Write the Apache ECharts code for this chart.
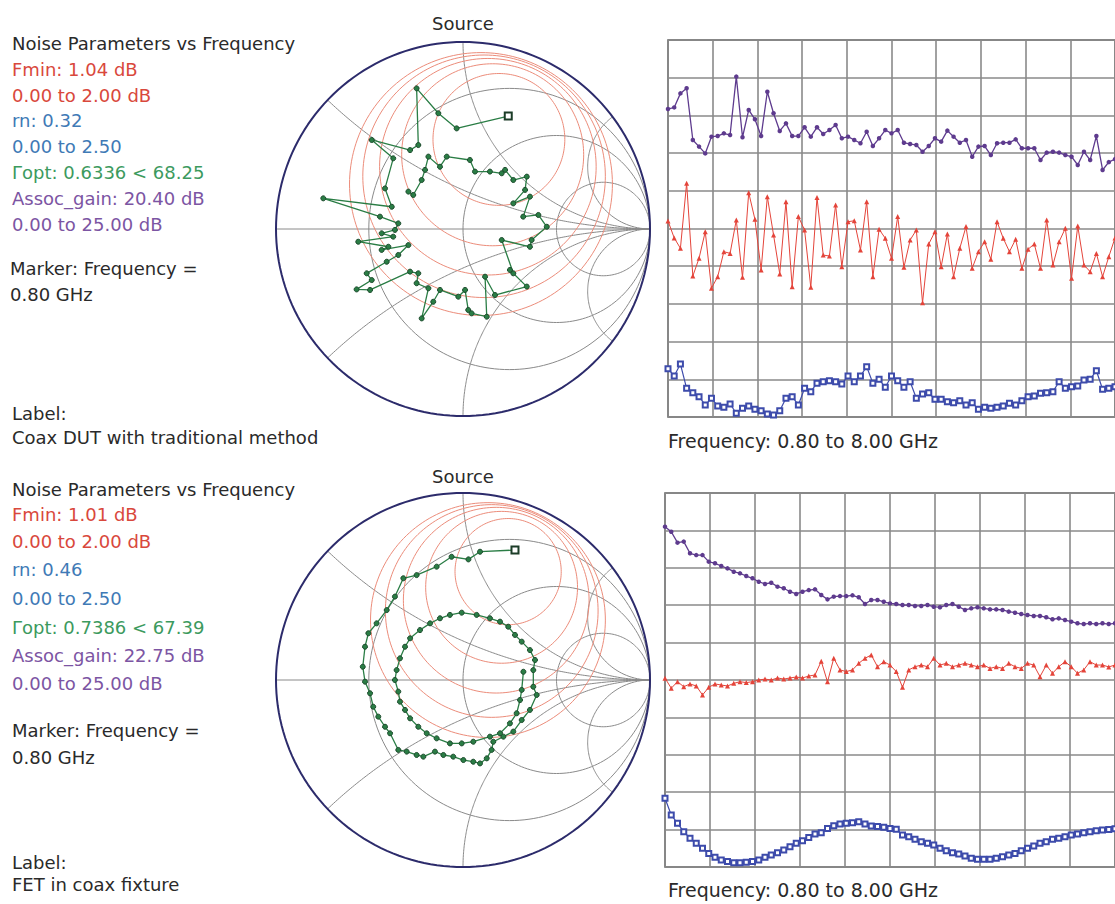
<!DOCTYPE html>
<html>
<head>
<meta charset="utf-8">
<script src="https://cdn.jsdelivr.net/npm/echarts@6/dist/echarts.min.js"></script>
<style>
html,body{margin:0;padding:0;background:#fff}
#main{width:1115px;height:904px}
</style>
</head>
<body>
<div id="main"></div>
<script>
// frequency points, GHz
var freq = [0.8,0.9,1.0,1.1,1.2,1.3,1.4,1.5,1.6,1.7,1.8,1.9,2.0,2.1,2.2,2.3,2.4,2.5,2.6,2.7,2.8,2.9,3.0,3.1,3.2,3.3,3.4,3.5,3.6,3.7,3.8,3.9,4.0,4.1,4.2,4.3,4.4,4.5,4.6,4.7,4.8,4.9,5.0,5.1,5.2,5.3,5.4,5.5,5.6,5.7,5.8,5.9,6.0,6.1,6.2,6.3,6.4,6.5,6.6,6.7,6.8,6.9,7.0,7.1,7.2,7.3,7.4,7.5,7.6,7.7,7.8,7.9,8.0];

// top: coax DUT, traditional method
var gainTop = [20.42,20.53,21.46,21.8,18.37,17.93,17.48,18.59,18.63,18.81,18.7,22.57,18.55,20.36,19.74,18.63,21.57,20.14,18.97,19.47,18.63,18.63,19.21,18.59,19.21,18.77,19.03,19.36,18.48,18.59,18.37,18.15,18.92,17.97,18.48,19.03,18.81,19.03,18.19,18.1,18.04,17.59,17.97,18.48,18.26,18.99,18.59,18.19,18.37,17.26,17.93,17.97,17.37,18.15,18.19,18.19,18.41,17.82,17.82,17.82,17.04,17.53,17.59,17.53,17.37,17.26,16.71,17.59,17.04,18.63,16.38,16.9,17.1];
var fminTop = [1.04,0.95,0.895,1.24,0.748,0.842,0.983,0.683,0.744,0.877,0.868,1.045,0.741,1.19,1.049,0.78,1.169,0.966,0.759,1.142,0.691,1.063,0.992,0.688,1.165,0.859,0.854,1.125,0.797,1.036,1.041,0.886,1.142,0.744,0.996,0.948,0.842,1.063,0.794,0.939,0.992,0.606,0.918,0.983,0.797,0.971,0.744,0.895,1.01,0.789,0.877,0.93,0.837,1.036,0.948,0.877,0.943,0.789,0.89,0.918,0.789,1.045,0.806,0.93,1.001,0.736,1.013,0.806,0.771,0.868,0.744,0.85,0.95];
var rnTop = [0.32,0.272,0.351,0.19,0.161,0.135,0.08,0.124,0.073,0.064,0.086,0.025,0.058,0.073,0.051,0.042,0.02,0.013,0.042,0.124,0.135,0.08,0.19,0.168,0.224,0.234,0.241,0.234,0.219,0.272,0.234,0.272,0.334,0.224,0.25,0.197,0.272,0.241,0.197,0.234,0.124,0.153,0.161,0.117,0.117,0.101,0.095,0.108,0.08,0.095,0.051,0.064,0.058,0.064,0.073,0.091,0.08,0.108,0.135,0.139,0.157,0.161,0.168,0.234,0.19,0.201,0.206,0.245,0.25,0.307,0.184,0.19,0.2];
var gammaTopRe = [0.242,-0.034,-0.132,-0.248,-0.239,-0.283,-0.488,-0.373,-0.417,-0.381,-0.747,-0.444,-0.346,-0.364,-0.435,-0.373,-0.56,-0.399,-0.435,-0.292,-0.346,-0.408,-0.515,-0.488,-0.569,-0.497,-0.283,-0.239,-0.248,-0.185,-0.221,-0.159,-0.123,-0.025,0.011,0.028,0.046,0.127,0.118,0.171,0.341,0.251,0.269,0.207,0.358,0.367,0.448,0.403,0.322,0.358,0.269,0.332,0.341,0.269,0.225,0.207,0.144,0.064,0.037,-0.087,-0.123,-0.185,-0.203,-0.221,-0.266,-0.292];
var gammaTopIm = [0.604,0.538,0.619,0.752,0.449,0.422,0.476,0.378,0.217,0.119,0.164,0.066,0.03,-0.005,-0.023,-0.041,-0.068,-0.095,-0.112,-0.086,-0.139,-0.175,-0.237,-0.273,-0.323,-0.326,-0.228,-0.237,-0.29,-0.317,-0.478,-0.389,-0.326,-0.362,-0.326,-0.433,-0.451,-0.469,-0.255,-0.353,-0.308,-0.219,-0.237,-0.059,-0.095,-0.059,0.012,0.075,0.066,0.173,0.137,0.209,0.28,0.262,0.316,0.298,0.307,0.307,0.369,0.387,0.333,0.387,0.316,0.262,0.182,0.2];
var noiseTopCx = [0.192,0.1587,0.133,0.1127,0.0961];
var noiseTopCy = [0.479,0.397,0.333,0.2819,0.2404];
var noiseTopR = [0.3525,0.4866,0.579,0.6485,0.7029];

// bottom: FET in coax fixture
var gainBot = [22.75,22.41,21.68,21.75,20.97,20.85,20.85,20.41,20.3,20.12,19.96,19.74,19.63,19.45,19.3,19.07,18.92,19.0,18.74,18.63,18.4,18.25,18.4,18.51,18.56,18.18,17.89,18.07,18.11,18.11,18.16,18.03,17.58,17.85,17.85,17.73,17.62,17.58,17.51,17.51,17.45,17.45,17.51,17.4,17.36,17.51,17.58,17.4,17.18,17.29,17.36,17.29,17.22,17.22,17.18,17.07,17.0,16.91,16.84,16.78,16.78,16.69,16.56,16.62,16.51,16.4,16.29,16.24,16.29,16.24,16.29,16.24,16.29];
var fminBot = [1.01,0.956,0.991,0.964,0.979,0.968,0.92,0.961,0.979,0.973,0.968,0.982,0.991,0.986,0.991,1.0,1.005,1.0,1.011,1.005,1.011,1.016,1.011,1.021,1.027,1.1,0.99,1.116,1.054,1.045,1.054,1.089,1.116,1.134,1.071,1.098,1.08,1.045,0.961,1.054,1.071,1.08,1.071,1.116,1.08,1.089,1.071,1.08,1.089,1.08,1.071,1.08,1.062,1.071,1.062,1.089,1.071,1.062,1.089,1.08,1.018,1.08,1.036,1.071,1.098,1.071,1.036,1.054,1.098,1.08,1.08,1.07,1.08];
var rnBot = [0.46,0.348,0.292,0.236,0.192,0.158,0.125,0.091,0.065,0.047,0.036,0.029,0.029,0.031,0.036,0.047,0.065,0.08,0.096,0.114,0.136,0.158,0.176,0.198,0.221,0.229,0.258,0.275,0.287,0.292,0.296,0.303,0.287,0.274,0.27,0.265,0.258,0.252,0.214,0.203,0.185,0.169,0.158,0.147,0.125,0.109,0.096,0.087,0.074,0.058,0.051,0.051,0.051,0.058,0.069,0.08,0.091,0.109,0.125,0.14,0.158,0.169,0.185,0.192,0.203,0.214,0.221,0.229,0.236,0.243,0.248,0.25,0.255];
var gammaBotRe = [0.278,0.091,0.029,-0.061,-0.141,-0.248,-0.319,-0.364,-0.408,-0.462,-0.506,-0.524,-0.536,-0.524,-0.497,-0.48,-0.453,-0.417,-0.39,-0.346,-0.301,-0.248,-0.212,-0.15,-0.105,-0.052,0.002,0.055,0.091,0.127,0.153,0.162,0.216,0.269,0.314,0.358,0.394,0.376,0.376,0.385,0.358,0.314,0.278,0.242,0.198,0.144,0.073,-0.007,-0.07,-0.123,-0.176,-0.23,-0.283,-0.31,-0.337,-0.355,-0.364,-0.346,-0.337,-0.31,-0.283,-0.239,-0.194,-0.141,-0.07,-0.007,0.055,0.144,0.198,0.251,0.287,0.305,0.314,0.323];
var gammaBotIm = [0.695,0.686,0.645,0.659,0.606,0.561,0.544,0.446,0.374,0.303,0.25,0.178,0.071,-0.009,-0.071,-0.143,-0.196,-0.25,-0.285,-0.374,-0.383,-0.401,-0.41,-0.383,-0.401,-0.41,-0.428,-0.437,-0.446,-0.419,-0.374,-0.33,-0.303,-0.276,-0.214,-0.16,-0.08,-0.036,0.053,0.107,0.16,0.205,0.241,0.285,0.312,0.33,0.348,0.36,0.348,0.33,0.303,0.267,0.223,0.178,0.116,0.053,0,-0.062,-0.116,-0.16,-0.205,-0.25,-0.285,-0.312,-0.339,-0.339,-0.33,-0.303,-0.285,-0.232,-0.178,-0.107,-0.053,0.044];
var noiseBotCx = [0.2413,0.2064,0.1777,0.1537,0.1334];
var noiseBotCy = [0.5795,0.4957,0.4268,0.369,0.3204];
var noiseBotR = [0.284,0.406,0.4965,0.5687,0.6279];

// Smith chart grid
var rCircles = [0.33, 1, 3];
var xArcs = [0.4, 1, 3, -0.4, -1, -3];

var cGain = '#5e3b8e', cFmin = '#e4443a', cRn = '#3d4bab', cGamma = '#2a7d45';
var gridGray = '#8a8a8a';

function circlePts(cx, cy, rad) {
    var p = [];
    for (var a = 0; a <= 360; a += 2) {
        var t = a * Math.PI / 180;
        p.push([cx + rad * Math.cos(t), cy + rad * Math.sin(t)]);
    }
    return p;
}
function zToGamma(r, x) {
    var d = (r + 1) * (r + 1) + x * x;
    return [(r * r + x * x - 1) / d, 2 * x / d];
}
function arcPts(x) {
    var p = [];
    for (var k = 0; k < 90; k += 0.5) p.push(zToGamma(Math.tan(k * Math.PI / 180), x));
    p.push([1, 0]);
    return p;
}
function lineSeries(xi, yi, pts, color, width) {
    return {
        type: 'line', xAxisIndex: xi, yAxisIndex: yi, data: pts,
        showSymbol: false, silent: true, animation: false, clip: false,
        lineStyle: {color: color, width: width}
    };
}
function smithSeries(xi, yi, ncx, ncy, nr, gre, gim) {
    var s = [];
    s.push(lineSeries(xi, yi, [[-1, 0], [1, 0]], gridGray, 1));
    rCircles.forEach(function (r) {
        s.push(lineSeries(xi, yi, circlePts(r / (1 + r), 0, 1 / (1 + r)), gridGray, 1));
    });
    xArcs.forEach(function (x) { s.push(lineSeries(xi, yi, arcPts(x), gridGray, 1)); });
    for (var i = 0; i < nr.length; i++) {
        s.push(lineSeries(xi, yi, circlePts(ncx[i], ncy[i], nr[i]), '#ec8c7a', 1));
    }
    s.push(lineSeries(xi, yi, circlePts(0, 0, 1), '#2c2b6b', 2));
    // first point = marker frequency (0.80 GHz), drawn as a square
    var tr = gre.map(function (v, i) {
        if (i === 0) {
            return {value: [v, gim[i]], symbol: 'emptyRect', symbolSize: 7,
                    itemStyle: {color: '#1c3d28', borderColor: '#1c3d28', borderWidth: 1.5}};
        }
        return [v, gim[i]];
    });
    s.push({
        type: 'line', xAxisIndex: xi, yAxisIndex: yi, data: tr, animation: false,
        symbol: 'circle', symbolSize: 5, showAllSymbol: true,
        lineStyle: {color: cGamma, width: 1.3},
        itemStyle: {color: cGamma, borderColor: '#1c4a2c', borderWidth: 1}
    });
    return s;
}
function rectSeries(xi, yi, gain, fmin, rn) {
    function pts(arr) { return arr.map(function (v, i) { return [freq[i], v]; }); }
    return [
        {type: 'line', xAxisIndex: xi, yAxisIndex: yi, data: pts(gain), symbol: 'circle', symbolSize: 4.5,
         showAllSymbol: true, animation: false, lineStyle: {color: cGain, width: 1.3}, itemStyle: {color: cGain}},
        {type: 'line', xAxisIndex: xi, yAxisIndex: yi + 1, data: pts(fmin), symbol: 'triangle', symbolSize: 5,
         showAllSymbol: true, animation: false, lineStyle: {color: cFmin, width: 1}, itemStyle: {color: cFmin}},
        {type: 'line', xAxisIndex: xi, yAxisIndex: yi + 2, data: pts(rn), symbol: 'emptyRect', symbolSize: 5,
         showAllSymbol: true, animation: false, lineStyle: {color: cRn, width: 1.2}, itemStyle: {color: cRn, borderWidth: 1}}
    ];
}

var hidden = {show: false};
function smithAxis(g) { return {type: 'value', gridIndex: g, min: -1, max: 1, show: false}; }
function freqAxis(g) { return {type: 'value', gridIndex: g, min: 0.8, max: 8.0, show: false}; }
function divAxis(g) {
    return {type: 'value', gridIndex: g, min: 0, max: 10, interval: 1, axisLine: hidden, axisTick: hidden,
            axisLabel: hidden, splitLine: {show: true, lineStyle: {color: gridGray, width: 1.6}}};
}
function gainAxis(g) {
    return {type: 'value', gridIndex: g, min: 0, max: 25, interval: 2.5, axisLine: hidden, axisTick: hidden,
            axisLabel: hidden, splitLine: {show: true, lineStyle: {color: gridGray, width: 1.6}}};
}
function plainAxis(g, max) { return {type: 'value', gridIndex: g, min: 0, max: max, show: false, splitLine: hidden}; }

var font = 'DejaVu Sans';
function txt(x, y, s, color, size) {
    return {type: 'text', x: x, y: y, silent: true,
            style: {text: s, fill: color, fontSize: size || 18, fontFamily: font, verticalAlign: 'middle'}};
}
var black = '#2a2a2a', tRed = '#d9483c', tBlue = '#3f7ab6', tGreen = '#3c9a5e', tPurple = '#7c55a3';

var option = {
    backgroundColor: '#fff',
    animation: false,
    grid: [
        {left: 276, top: 42, width: 374, height: 374},
        {left: 668, top: 40, width: 460, height: 377, show: true, borderColor: '#555', borderWidth: 1.5, backgroundColor: 'transparent'},
        {left: 276, top: 493, width: 374, height: 374},
        {left: 665, top: 493, width: 460, height: 374, show: true, borderColor: '#555', borderWidth: 1.5, backgroundColor: 'transparent'}
    ],
    xAxis: [smithAxis(0), freqAxis(1), divAxis(1), smithAxis(2), freqAxis(3), divAxis(3)],
    yAxis: [smithAxis(0), gainAxis(1), plainAxis(1, 2), plainAxis(1, 2.5), smithAxis(2), gainAxis(3), plainAxis(3, 2), plainAxis(3, 2.5)],
    series: [].concat(
        smithSeries(0, 0, noiseTopCx, noiseTopCy, noiseTopR, gammaTopRe, gammaTopIm),
        rectSeries(1, 1, gainTop, fminTop, rnTop),
        smithSeries(3, 4, noiseBotCx, noiseBotCy, noiseBotR, gammaBotRe, gammaBotIm),
        rectSeries(4, 5, gainBot, fminBot, rnBot)
    ),
    graphic: [
        txt(12, 43, 'Noise Parameters vs Frequency', black),
        txt(12, 69, 'Fmin: 1.04 dB', tRed),
        txt(12, 95, '0.00 to 2.00 dB', tRed),
        txt(12, 120, 'rn: 0.32', tBlue),
        txt(12, 146, '0.00 to 2.50', tBlue),
        txt(12, 172, 'Γopt: 0.6336 < 68.25', tGreen),
        txt(12, 198, 'Assoc_gain: 20.40 dB', tPurple),
        txt(12, 224, '0.00 to 25.00 dB', tPurple),
        txt(10, 268, 'Marker: Frequency =', black),
        txt(10, 294, '0.80 GHz', black),
        txt(12, 413, 'Label:', black),
        txt(12, 437, 'Coax DUT with traditional method', black),
        {type: 'text', x: 463, y: 23, silent: true, style: {text: 'Source', fill: black, fontSize: 18, fontFamily: font, align: 'center', verticalAlign: 'middle'}},
        txt(668, 441, 'Frequency: 0.80 to 8.00 GHz', black, 19),

        txt(12, 489, 'Noise Parameters vs Frequency', black),
        txt(12, 514, 'Fmin: 1.01 dB', tRed),
        txt(12, 541, '0.00 to 2.00 dB', tRed),
        txt(12, 569, 'rn: 0.46', tBlue),
        txt(12, 598, '0.00 to 2.50', tBlue),
        txt(12, 627, 'Γopt: 0.7386 < 67.39', tGreen),
        txt(12, 655, 'Assoc_gain: 22.75 dB', tPurple),
        txt(12, 683, '0.00 to 25.00 dB', tPurple),
        txt(12, 730, 'Marker: Frequency =', black),
        txt(12, 757, '0.80 GHz', black),
        txt(12, 862, 'Label:', black),
        txt(12, 884, 'FET in coax fixture', black),
        {type: 'text', x: 463, y: 476, silent: true, style: {text: 'Source', fill: black, fontSize: 18, fontFamily: font, align: 'center', verticalAlign: 'middle'}},
        txt(668, 890, 'Frequency: 0.80 to 8.00 GHz', black, 19)
    ]
};

var myChart = echarts.init(document.getElementById('main'), null, {renderer: 'svg'});
myChart.setOption(option);
window.onresize = function () {
    myChart.resize();
};
</script>
</body>
</html>
